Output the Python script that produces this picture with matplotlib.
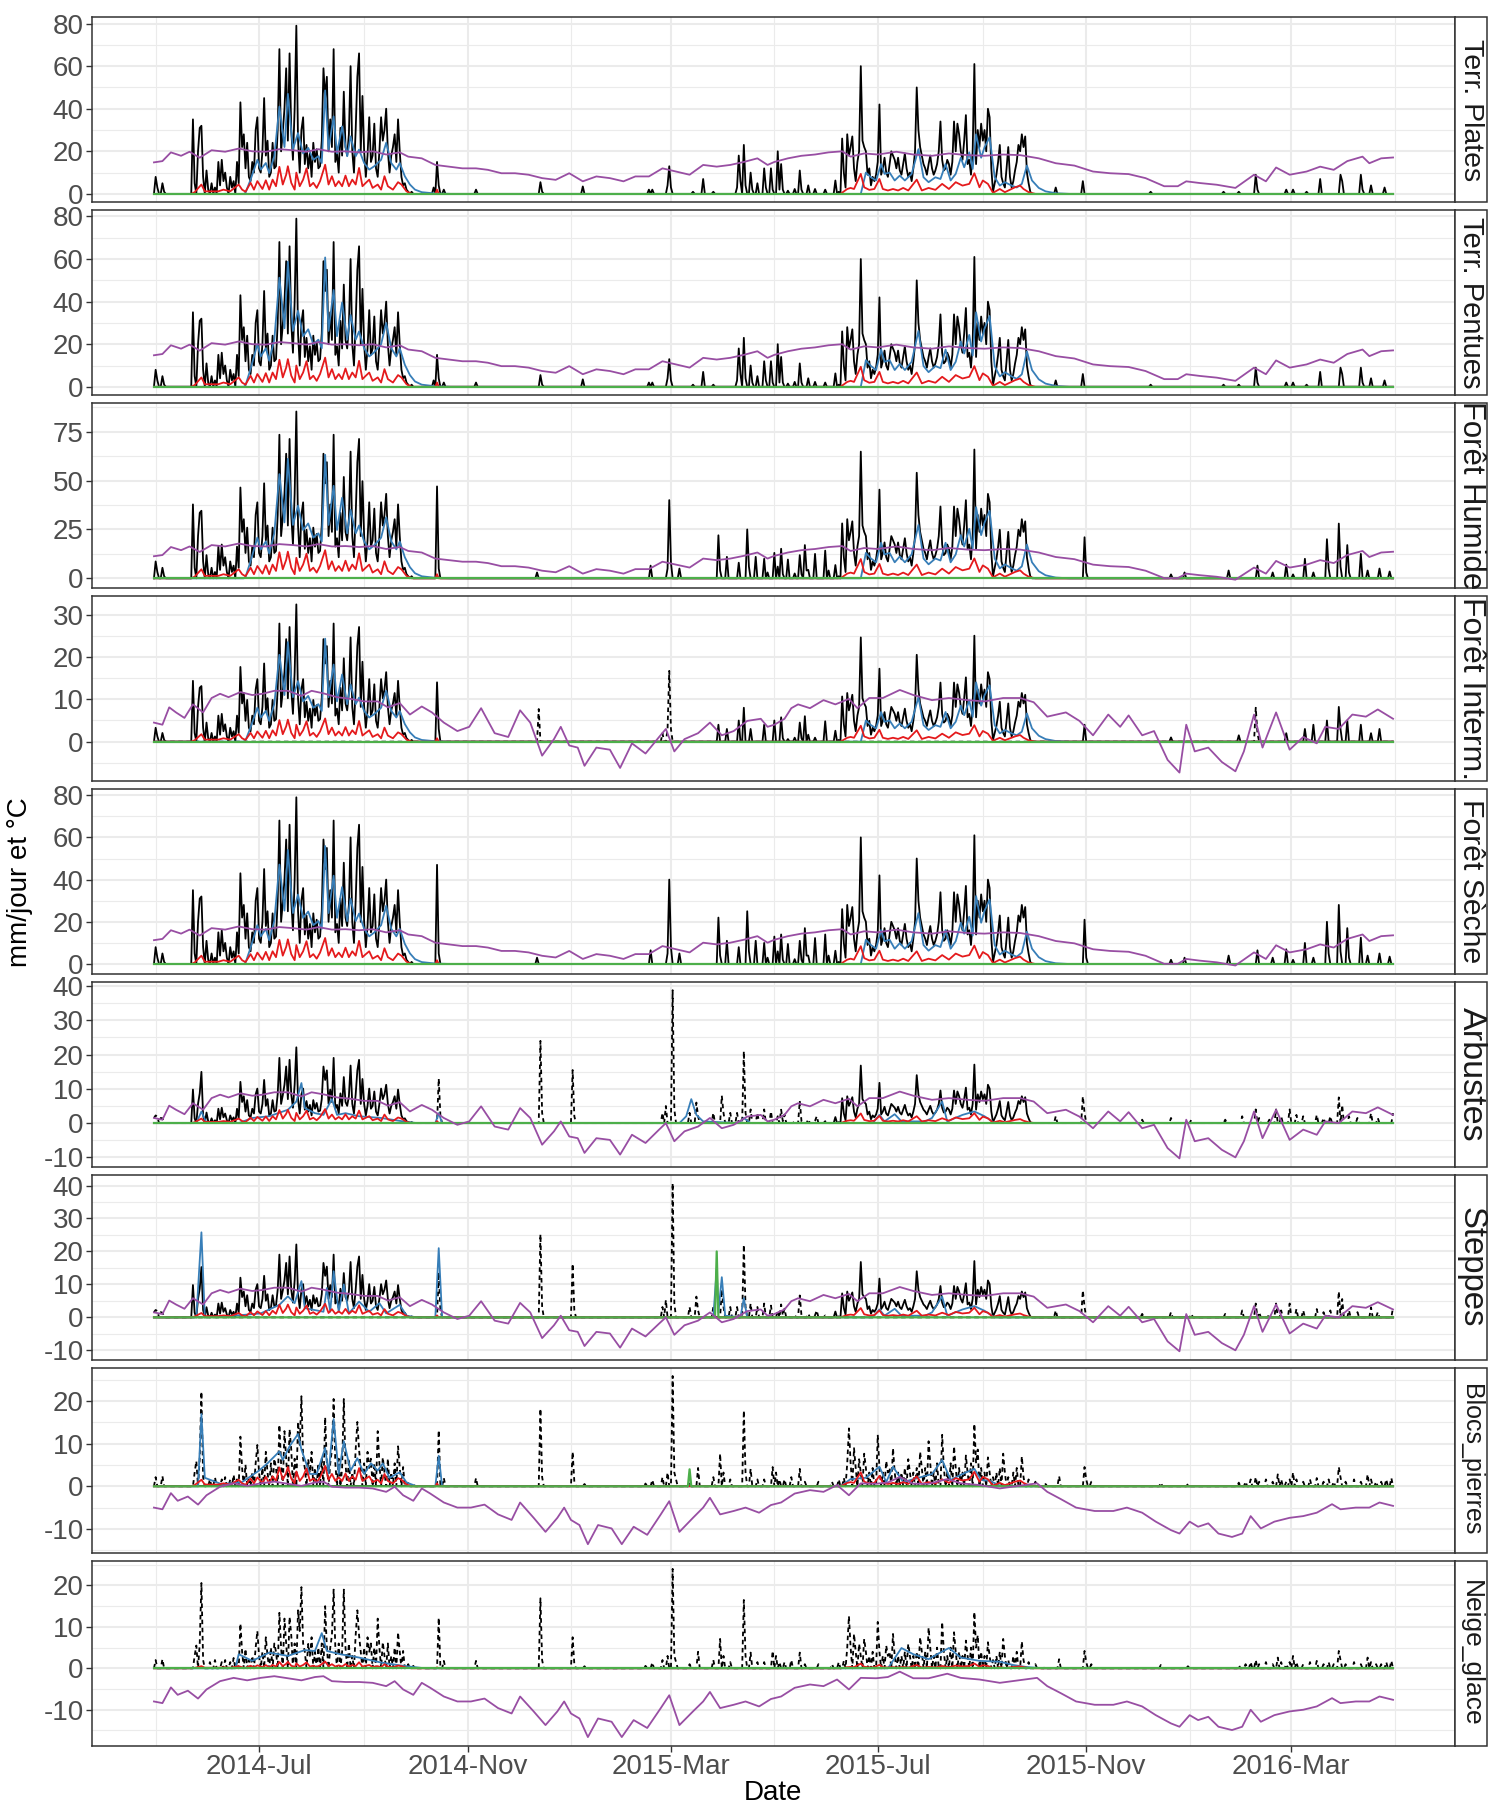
import numpy as np
import pandas as pd
import matplotlib
matplotlib.use("Agg")
import matplotlib.pyplot as plt
from matplotlib.patches import Rectangle

plt.rcParams['font.family'] = ['Liberation Sans', 'DejaVu Sans']

# ---------------------------------------------------------------- data
start_date = "2014-04-30"
n_days = 732

panel_names = ["Terr. Plates", "Terr. Pentues", "Forêt Humide", "Forêt Interm.",
               "Forêt Sèche", "Arbustes", "Steppes", "Blocs_pierres", "Neige_glace"]
y_ticks = [[0, 20, 40, 60, 80], [0, 20, 40, 60, 80], [0, 25, 50, 75], [0, 10, 20, 30],
           [0, 20, 40, 60, 80], [-10, 0, 10, 20, 30, 40], [-10, 0, 10, 20, 30, 40],
           [-10, 0, 10, 20], [-10, 0, 10, 20]]
x_tick_dates = ["2014-07-01", "2014-11-01", "2015-03-01", "2015-07-01", "2015-11-01", "2016-03-01"]
x_tick_labels = ["2014-Jul", "2014-Nov", "2015-Mar", "2015-Jul", "2015-Nov", "2016-Mar"]
x_minor_dates = ["2014-05-01", "2014-09-01", "2015-01-01", "2015-05-01", "2015-09-01",
                 "2016-01-01", "2016-05-01"]

# precipitation (mm/jour), day offset from start_date : value, read on "Terr. Plates"
precip_summer14 = [
    (1, 8), (2, 3), (5, 5), (6, 1), (23, 35), (24, 5), (26, 20), (27, 31), (28, 32), (29, 8),
    (31, 11), (32, 2), (34, 5), (36, 3), (38, 15), (39, 4), (40, 16), (41, 6), (42, 10), (43, 3),
    (45, 8), (46, 3), (47, 6), (49, 15), (50, 5), (51, 43), (52, 22), (53, 28), (54, 12), (55, 24),
    (56, 8), (57, 6), (58, 15), (59, 10), (60, 30), (61, 36), (62, 12), (63, 10), (64, 20), (65, 45),
    (66, 18), (67, 25), (68, 8), (69, 10), (70, 24), (71, 12), (72, 13), (73, 30), (74, 68), (75, 20),
    (76, 29), (77, 40), (78, 59), (79, 25), (80, 66), (81, 30), (82, 16), (83, 40), (84, 79), (85, 25),
    (86, 10), (87, 30), (88, 36), (89, 14), (90, 23), (91, 12), (92, 19), (93, 8), (94, 24), (95, 15),
    (96, 21), (97, 12), (98, 13), (99, 25), (100, 59), (101, 45), (102, 55), (103, 20), (104, 35),
    (105, 22), (106, 68), (107, 15), (108, 19), (109, 10), (110, 31), (111, 18), (112, 48), (113, 22),
    (114, 18), (115, 28), (116, 60), (117, 20), (118, 10), (119, 30), (120, 55), (121, 66), (122, 20),
    (123, 46), (124, 20), (125, 8), (126, 18), (127, 36), (128, 15), (129, 18), (130, 33), (131, 12),
    (132, 8), (133, 20), (134, 36), (135, 25), (136, 30), (137, 40), (138, 20), (139, 10), (140, 18),
    (141, 22), (142, 28), (143, 15), (144, 35), (145, 20), (146, 8), (147, 4), (148, 5), (149, 2),
    (150, 1), (152, 1)]
precip_summer15 = [
    (370, 14), (371, 2), (374, 1.5), (378, 2.3), (381, 11), (382, 2), (386, 4), (390, 2.3), (396, 2),
    (402, 6.3), (404, 1), (406, 26), (407, 10), (408, 3), (409, 28), (410, 18), (411, 22), (412, 27),
    (413, 12), (414, 6), (415, 15), (416, 20), (417, 60), (418, 25), (419, 22), (420, 20), (421, 9),
    (422, 12), (423, 4), (424, 8), (425, 6), (426, 9), (427, 15), (428, 42), (429, 9), (430, 12),
    (431, 17), (432, 10), (433, 8), (434, 14), (435, 20), (436, 18), (437, 16), (438, 12), (439, 17),
    (440, 11), (441, 9), (442, 14), (443, 19), (444, 12), (445, 8), (446, 10), (447, 6), (448, 12),
    (449, 20), (450, 50), (451, 30), (452, 22), (453, 18), (454, 14), (455, 12), (456, 9), (457, 14),
    (458, 18), (459, 12), (460, 9), (461, 11), (462, 14), (463, 20), (464, 34), (465, 16), (466, 11),
    (467, 12), (468, 16), (469, 14), (470, 9), (471, 15), (472, 34), (473, 20), (474, 33), (475, 28),
    (476, 20), (477, 16), (478, 25), (479, 37), (480, 14), (481, 16), (482, 9), (483, 20), (484, 61),
    (485, 14), (486, 30), (487, 22), (488, 33), (489, 25), (490, 30), (491, 20), (492, 40), (493, 36),
    (494, 12), (495, 1), (496, 5), (497, 9), (498, 15), (499, 23), (500, 8), (501, 5), (502, 3),
    (503, 12), (504, 22), (505, 8), (506, 3), (507, 6), (508, 11), (509, 15), (510, 23), (511, 20),
    (512, 28), (513, 22), (514, 27), (515, 10), (516, 5), (517, 1)]

# extra (mostly winter) precipitation events, one list per group of zones
events_A = [(165, 3), (167, 15), (168, 4), (171, 2), (190, 2), (228, 5.5), (229, 1), (253, 3.5),
            (292, 2), (294, 2), (303, 4), (304, 13), (305, 3), (318, 1), (324, 7), (330, 1), (344, 3),
            (345, 18), (346, 6), (348, 23), (349, 4), (352, 10), (353, 2), (356, 5), (360, 12),
            (361, 3), (364, 12), (365, 2), (368, 20), (369, 2), (532, 3), (548, 6), (588, 1),
            (631, 1), (640, 1), (650, 9), (651, 2), (668, 2), (672, 2), (680, 1), (688, 7), (700, 9),
            (701, 6), (712, 9), (713, 2), (718, 4), (726, 3)]
events_B = [(167, 47), (168, 5), (226, 3), (293, 6.5), (303, 5), (304, 40), (305, 8), (310, 5),
            (333, 22), (334, 4), (338, 11), (345, 8), (350, 25), (351, 6), (355, 11), (360, 10),
            (362, 3), (366, 13), (368, 6), (374, 8), (384, 17), (385, 4), (390, 10), (396, 12),
            (398, 4), (549, 21), (550, 3), (600, 2), (608, 3), (634, 4), (651, 6.5), (660, 3),
            (668, 7), (672, 2), (679, 10), (684, 3), (692, 20), (693, 5), (699, 28), (700, 6),
            (704, 17), (705, 3), (712, 12.5), (716, 4), (723, 5), (729, 3.5)]
events_C = [(167, 14), (168, 3), (227, 7.7), (300, 2), (303, 3), (304, 16.7), (305, 3), (333, 4),
            (338, 3), (345, 5), (348, 8), (352, 3), (360, 4), (366, 5), (384, 6), (396, 4), (549, 4),
            (600, 1), (640, 1.5), (650, 8), (651, 2), (668, 2), (679, 3), (684, 4), (692, 5),
            (699, 8.2), (700, 3), (704, 5), (712, 4), (718, 2), (723, 3)]
events_D = [(0, 1.5), (2, 1), (4, 1.5), (28, 6), (168, 13), (169, 2), (228, 24), (229, 3),
            (247, 15.5), (248, 2), (300, 3), (302, 5), (306, 38.8), (307, 4), (316, 3), (320, 6),
            (321, 2), (330, 3), (335, 8), (336, 3), (340, 3), (344, 3), (348, 21), (349, 3), (352, 4),
            (356, 3), (360, 4), (364, 3.4), (368, 2), (372, 2.5), (381, 3.4), (391, 2), (532, 2),
            (548, 7.8), (549, 3), (583, 1), (600, 1.5), (612, 1), (632, 1), (642, 2), (650, 4),
            (652, 1.5), (658, 1), (662, 4), (665, 2), (670, 4), (674, 2.4), (678, 2), (686, 2.4),
            (690, 1.5), (694, 2), (699, 7.5), (701, 5.3), (705, 2), (710, 1.5), (718, 2.9),
            (722, 1.5), (731, 2.9)]
events_E = [
    (1, 2), (5, 2.2), (24, 3), (25, 5.5), (27, 6), (28, 20.6), (29, 2), (33, 1.5), (36, 2), (40, 1.5),
    (42, 2), (45, 1.5), (47, 2.5), (49, 1.5), (51, 10.8), (52, 4), (54, 4.7), (56, 2), (58, 3),
    (60, 5), (61, 9), (62, 3), (64, 4), (66, 7.5), (67, 3), (69, 5), (71, 6), (72, 4), (74, 13.4),
    (75, 5), (77, 12), (78, 6), (80, 12.4), (81, 8), (83, 6), (85, 14), (86, 9), (87, 19.6), (88, 6),
    (89, 4), (91, 5.9), (92, 3), (93, 7.5), (95, 4), (97, 5), (99, 6), (101, 15), (102, 5), (104, 5),
    (105, 8), (106, 19), (107, 5), (109, 6), (111, 4), (112, 19), (113, 5), (115, 6), (117, 3),
    (119, 8), (120, 14), (121, 8), (122, 4), (124, 5), (126, 7.5), (127, 4), (128, 6), (130, 5),
    (132, 12), (133, 5), (135, 6.3), (136, 3), (138, 6), (140, 3), (142, 5), (144, 8.7), (145, 4),
    (147, 4.2), (150, 1), (153, 0.6), (168, 12.2), (171, 1.8), (190, 1.8), (228, 16.9), (229, 2),
    (247, 7.5), (248, 1), (254, 0.5), (290, 0.6), (294, 1.4), (300, 2), (303, 3), (306, 24), (307, 3),
    (308, 1.5), (316, 1), (321, 4), (330, 2), (334, 7.1), (336, 3), (340, 1.5), (348, 16.5), (349, 3),
    (352, 3.8), (356, 1.5), (360, 1.5), (365, 4.2), (367, 3), (369, 1.5), (372, 1.5), (376, 2),
    (381, 3.8), (384, 1), (392, 1), (400, 1), (404, 1.5), (407, 1.8), (409, 5), (410, 12.6), (411, 5),
    (413, 8.3), (414, 4), (416, 5.9), (417, 3), (419, 7.1), (420, 4), (422, 3), (424, 4), (427, 11.2),
    (428, 4), (430, 3), (432, 5.5), (433, 3), (434, 4), (436, 8.3), (437, 3), (439, 3), (441, 3),
    (443, 4), (445, 5.9), (446, 3), (448, 3), (450, 4), (452, 7.5), (453, 4), (455, 4), (457, 9.8),
    (458, 5), (460, 3), (462, 5), (465, 11.2), (466, 4), (468, 3), (470, 5), (472, 8.7), (473, 4),
    (475, 4), (477, 3), (479, 6.7), (480, 3), (482, 5), (484, 13.6), (485, 5), (486, 8), (488, 4),
    (490, 3), (492, 6.3), (493, 3), (495, 2), (497, 3), (499, 4), (501, 7.1), (502, 3), (504, 2),
    (507, 3), (509, 4), (512, 6.5), (513, 2), (516, 1.5), (520, 1), (526, 0.5), (534, 2.2),
    (549, 4.2), (550, 1.5), (553, 1), (594, 0.8), (610, 0.5), (640, 0.8), (644, 1), (647, 1.5),
    (650, 2), (652, 1), (656, 1.5), (660, 1), (663, 2.6), (665, 1.5), (668, 1), (670, 1.5), (672, 3),
    (674, 1.5), (678, 1), (682, 1.5), (686, 1.8), (690, 1), (693, 1.5), (696, 1), (699, 4.2),
    (700, 2), (703, 1), (708, 1.5), (712, 1), (716, 2.6), (718, 1.5), (721, 1), (724, 1), (727, 1.5),
    (730, 1.8)]

# blue series (points joined by lines)
blue_A = [(0, 0), (53, 0), (54, 0.5), (57, 6.7), (61, 16), (63, 11.4), (66, 14.5), (68, 9.8),
          (71, 17.7), (74, 41), (77, 22), (79, 47), (82, 21), (85, 28.6), (88, 19), (91, 21.6),
          (94, 16), (97, 17.7), (99, 14.5), (101, 48.6), (103, 21), (106, 36.4), (108, 19),
          (111, 31.7), (114, 17.7), (116, 27), (119, 17.7), (121, 20.8), (124, 14.5), (127, 11.4),
          (130, 13), (134, 16), (137, 24), (140, 14.5), (143, 11.4), (145, 14.5), (148, 8.3),
          (151, 4.4), (154, 2), (158, 0.8), (166, 0.2), (175, 0), (417, 0), (420, 10), (423, 7.8),
          (426, 6.3), (429, 14), (431, 9.4), (434, 10), (437, 6.3), (440, 8.6), (443, 6.3),
          (447, 9.4), (451, 21), (454, 7.8), (457, 5.5), (461, 7.8), (464, 7), (467, 14), (470, 6.3),
          (473, 9.4), (476, 17), (478, 12.5), (481, 19.5), (483, 11.7), (485, 28), (488, 17),
          (490, 21.9), (493, 26.6), (496, 7.8), (499, 3.9), (502, 5.5), (506, 3.9), (509, 3),
          (512, 4.7), (515, 13.3), (518, 6.3), (522, 2.8), (526, 1.2), (532, 0.3), (540, 0), (731, 0)]
blue_p6 = [(0, 0), (25, 0), (28, 3.4), (31, 0), (50, 0), (58, 1.5), (68, 2), (79, 3.9), (84, 6.3),
           (87, 11.7), (89, 4.4), (95, 2.9), (100, 2.4), (105, 7), (108, 2.4), (113, 2.9), (121, 2),
           (134, 1.5), (147, 0.5), (155, 0), (166, 0), (168, 2.9), (170, 0), (310, 0), (314, 2),
           (317, 7), (320, 2.4), (324, 0.5), (345, 0), (348, 1.5), (352, 0), (424, 0), (428, 2.4),
           (431, 0.5), (437, 2.6), (441, 0.5), (455, 0.5), (459, 1.5), (465, 6.3), (468, 0.5),
           (477, 2.4), (484, 3.4), (490, 2), (496, 0), (731, 0)]
blue_p7 = [(0, 0), (25, 0), (28, 25.8), (30, 0), (52, 0.7), (63, 1.2), (74, 3.8), (79, 6.4),
           (83, 4.3), (87, 11), (89, 2.8), (100, 1.7), (102, 8.9), (104, 1.7), (106, 14), (109, 1.7),
           (112, 10), (115, 1.2), (121, 4.8), (127, 1.7), (133, 4.3), (137, 1.2), (145, 3.8),
           (149, 0.5), (155, 0), (166, 0), (168, 21), (170, 0), (330, 0), (332, 14.9), (333, 1.5),
           (335, 12.2), (337, 0.5), (346, 0), (348, 5.8), (350, 0), (424, 0), (428, 2.4), (431, 0.5),
           (437, 2.6), (441, 0.5), (455, 0.5), (459, 1.5), (465, 6.3), (468, 0.5), (477, 2.4),
           (484, 3.4), (490, 2), (496, 0), (731, 0)]
blue_p8 = [(0, 0), (26, 0), (28, 17), (30, 2), (40, 0.5), (52, 1), (62, 3.7), (67, 5.4), (74, 8.2),
           (76, 6.2), (80, 9.4), (85, 12.3), (87, 8.6), (92, 2.9), (96, 2.9), (101, 9), (103, 3),
           (106, 15.8), (109, 2.9), (112, 10.6), (116, 3.7), (120, 6.6), (124, 2.9), (128, 5.4),
           (132, 3.7), (135, 5.4), (139, 2), (145, 3.3), (149, 0.9), (155, 0), (166, 0), (168, 7.2),
           (170, 0), (405, 0), (411, 1.7), (420, 2), (428, 4.6), (432, 1), (436, 4.6), (442, 1),
           (459, 2.9), (465, 6.2), (470, 1.5), (477, 2.9), (484, 4.1), (488, 1.5), (493, 1.3),
           (500, 0), (731, 0)]
blue_p9 = [(0, 0), (48, 0), (50, 3.4), (58, 1.8), (68, 3.8), (79, 3), (89, 4.4), (95, 4.2),
           (99, 8.5), (102, 4.2), (110, 3.4), (121, 2.6), (134, 1.4), (147, 0.6), (160, 0), (433, 0),
           (441, 4.9), (448, 3.4), (457, 2.2), (462, 3.4), (469, 4.9), (476, 2.6), (487, 1.8),
           (499, 1.6), (507, 0.8), (515, 0.3), (525, 0), (731, 0)]

# red series (points joined by lines), read on "Terr. Plates"
red_A = [(0, 0), (22, 0), (24, 0.8), (28, 4.4), (30, 1.2), (38, 1.2), (41, 2), (45, 1.2), (50, 4.4),
         (52, 2), (54, 1), (57, 5.2), (59, 2), (61, 6), (64, 2.3), (66, 6.4), (68, 2), (70, 6.7),
         (72, 3.6), (74, 12.7), (76, 4.4), (78, 9), (79, 13), (81, 5.2), (83, 2), (84, 10), (86, 3.6),
         (88, 6.7), (90, 12), (92, 3.6), (94, 5.2), (96, 2.8), (98, 6), (101, 13.7), (103, 4.4),
         (105, 8.3), (107, 3.6), (109, 6), (111, 3.6), (113, 8.6), (115, 3.6), (117, 6.7), (119, 4.4),
         (121, 12.2), (123, 3.6), (125, 5.2), (127, 6.7), (129, 2.8), (132, 4.4), (134, 2), (136, 8.3),
         (138, 3.6), (141, 2), (144, 5.5), (146, 4.4), (149, 1.2), (152, 0), (166, 0), (167, 2),
         (168, 0), (405, 0), (409, 2.3), (411, 2.8), (413, 2.3), (417, 9.4), (419, 3.1), (422, 1.9),
         (425, 2.3), (428, 7), (430, 2.3), (433, 1.6), (436, 2.3), (439, 1.6), (442, 2.8), (445, 1.6),
         (450, 6.7), (453, 1.6), (457, 2.8), (461, 1.9), (465, 4.7), (469, 2.3), (473, 5.5),
         (477, 3.9), (481, 4.7), (484, 9.7), (487, 3.1), (489, 6.3), (492, 4.7), (495, 0.5),
         (499, 2.3), (502, 0.8), (508, 3.1), (511, 3.9), (513, 2.3), (516, 0.8), (520, 0), (731, 0)]

# green series: zero except these spikes
green_p7 = [(332, 20)]
green_p8 = [(316, 4)]

# temperature (°C), three reference curves
temp_warm = [(0, 14.8), (5, 15.4), (10, 19.5), (16, 17.9), (21, 19.8), (27, 17), (34, 20.5),
             (42, 19.8), (50, 21.3), (58, 20), (66, 19.8), (74, 21), (82, 20.5), (90, 19.8), (97, 21),
             (105, 19.8), (113, 20), (121, 19.5), (129, 20), (137, 18.5), (145, 19.5), (150, 17.5),
             (158, 16.7), (166, 13.6), (174, 12.8), (182, 12), (190, 12), (197, 11.3), (205, 9.7),
             (213, 9.7), (221, 9), (229, 7.4), (237, 6.6), (245, 9.7), (253, 5.9), (261, 8.2),
             (269, 7.4), (277, 5.9), (284, 8.2), (292, 8.2), (300, 12), (308, 10.5), (316, 9),
             (324, 13.6), (332, 12.8), (340, 13.6), (348, 15), (356, 16.7), (362, 13.6), (366, 15),
             (374, 16.7), (382, 17.9), (390, 18.5), (398, 19.5), (406, 20), (411, 17.5), (419, 19),
             (427, 18.5), (438, 19.8), (448, 18.5), (459, 17.9), (469, 19), (480, 18.2), (490, 17.9),
             (501, 18.5), (511, 18.2), (522, 16.7), (532, 14.4), (543, 13.3), (554, 10.5),
             (564, 9.7), (575, 9.3), (585, 7.4), (596, 3.6), (604, 3.6), (609, 5.9), (617, 5.1),
             (627, 4.3), (638, 2.8), (649, 9), (656, 5.9), (662, 12.4), (670, 9), (680, 10.5),
             (688, 12.8), (696, 11.3), (704, 15.4), (713, 17.5), (717, 14.4), (724, 16.7), (731, 17.1)]
temp_mid = [(0, 1.5), (5, 1), (9, 5.1), (13, 3.9), (18, 2.6), (23, 5.8), (29, 3.9), (34, 7.3),
            (39, 8.3), (44, 7.5), (51, 8.7), (58, 8), (64, 8.3), (71, 9), (79, 9), (87, 7.8), (93, 9),
            (100, 8.4), (108, 7.5), (116, 7.1), (124, 6.5), (132, 6.5), (138, 5.1), (145, 6.1),
            (151, 3.4), (158, 5.3), (164, 3.9), (171, 1.5), (179, -0.5), (186, 0.5), (193, 4.9),
            (201, -1), (209, -1.9), (216, 4.4), (222, 1.5), (229, -6.3), (236, -2.4), (240, 0.5),
            (245, -3.9), (250, -4.4), (254, -8.7), (261, -4.4), (269, -4.9), (275, -9.2), (282, -3.4),
            (290, -5.8), (298, -1.9), (302, 0), (307, -5.3), (313, -2.4), (321, -1), (328, 1.5),
            (335, -1.5), (342, -0.5), (350, 1.9), (358, 2.4), (362, 0.5), (366, 1), (372, 2.4),
            (376, 4.9), (380, 5.8), (387, 4.9), (395, 6.8), (402, 5.8), (410, 7.1), (415, 4.9),
            (422, 7.3), (430, 7.3), (440, 9.2), (448, 8), (459, 6.8), (469, 7.3), (480, 6.8),
            (490, 6.5), (501, 7.3), (511, 7.3), (519, 6.3), (527, 2.9), (538, 3.9), (546, 1.9),
            (554, -1.5), (563, 3.4), (570, 0.5), (575, 3.2), (583, -1.5), (590, -0.5), (598, -7.3),
            (605, -10.3), (609, 1), (614, -5.3), (622, -4.4), (630, -7.8), (638, -10), (643, -5.3),
            (649, 3.4), (654, -4.4), (662, 3.9), (670, -4.9), (678, -1.9), (686, -3.4), (691, 0.5),
            (699, 0), (707, 3.4), (715, 2.9), (722, 4.6), (731, 2.4)]
temp_cold = [(0, -8), (5, -8.4), (10, -4.6), (14, -6.4), (20, -5.4), (26, -7.3), (31, -5.1),
             (39, -3.1), (47, -2.3), (55, -2.9), (63, -2.3), (71, -1.9), (79, -2.4), (87, -2.9),
             (95, -2.1), (100, -1.9), (105, -3.1), (113, -3.3), (121, -3.3), (129, -3.5), (137, -4.3),
             (142, -3.1), (147, -5.1), (153, -6.4), (158, -3.5), (163, -4.7), (171, -6.8), (179, -8),
             (187, -8), (195, -7.3), (203, -9.6), (211, -10.9), (216, -6.8), (224, -10.4),
             (231, -13.7), (238, -10.4), (242, -8), (246, -10.9), (251, -12.1), (256, -16.6),
             (262, -12.1), (270, -12.9), (276, -16.6), (283, -12.5), (291, -14.4), (299, -9.6),
             (304, -6.5), (310, -13.7), (318, -10.4), (324, -8), (328, -5.7), (334, -9.6), (342, -8.8),
             (349, -8), (357, -9.2), (364, -7.4), (370, -6.8), (378, -4.7), (387, -3.9), (395, -4.3),
             (403, -2.7), (410, -5.1), (417, -2.3), (426, -2.4), (433, -2.1), (440, -0.8), (448, -2.4),
             (457, -2.4), (468, -1.3), (476, -2.3), (487, -2.7), (499, -3.5), (510, -2.9), (521, -2.3),
             (527, -4.3), (535, -6), (544, -8), (555, -8.8), (566, -8.8), (574, -8), (583, -9.2),
             (591, -11.3), (600, -13.3), (605, -14.1), (611, -11.3), (616, -12.5), (622, -11.7),
             (628, -14.1), (636, -14.9), (642, -14.1), (647, -10), (653, -12.9), (661, -11.3),
             (670, -10.4), (678, -10), (686, -9.2), (695, -7.2), (700, -8.4), (709, -8), (717, -8),
             (723, -6.8), (731, -7.6)]

# per-zone settings
summer_scale = [1, 1, 1.08, 0.41, 1, 0.28, 0.28, 0, 0]
events_group = ["A", "A", "B", "C", "B", "D", "D", "E", "E"]
events_scale = [1, 1, 1, 1, 1, 1, 1.05, 1.08, 1]
snow_windows = [[], [], [], [(220, 235), (298, 310), (645, 655)], [],
                [(0, 12), (160, 400), (522, 731)], [(0, 12), (160, 400), (522, 731)],
                [(0, 731)], [(0, 731)]]
blue_source = ["A", "A", "A", "A", "A", "p6", "p7", "p8", "p9"]
blue_scale = [1, 1.25, 1.3, 0.5, 1.15, 1, 1, 1, 1]
red_scale = [1, 1, 1.05, 0.4, 0.9, 0.3, 0.3, 0.35, 0.12]
green_events = [[], [], [], [], [], [], green_p7, green_p8, []]
temp_source = ["warm", "warm", "warm", "mid", "warm", "mid", "mid", "cold", "cold"]
temp_offset = [0, 0, -3.5, 3, -3.5, 0, 0, 3, 0]
strip_sizes = [20.5, 21, 22.4, 23, 21.7, 24.6, 23.7, 18, 19]

events = {"A": events_A, "B": events_B, "C": events_C, "D": events_D, "E": events_E}
blues = {"A": blue_A, "p6": blue_p6, "p7": blue_p7, "p8": blue_p8, "p9": blue_p9}
temps = {"warm": temp_warm, "mid": temp_mid, "cold": temp_cold}

# ---------------------------------------------------------------- helpers
t0 = pd.Timestamp(start_date)
dates = pd.date_range(start_date, periods=n_days, freq="D")


def daily(ev, scale=1.0):
    arr = np.zeros(n_days)
    for d, v in ev:
        if 0 <= d < n_days:
            arr[d] += v * scale
    return arr


def joined(pts, scale=1.0, offset=0.0):
    d = np.array([p[0] for p in pts])
    v = np.array([p[1] for p in pts], dtype=float) * scale + offset
    return t0 + pd.to_timedelta(d, unit="D"), v


BLACK, BLUE, RED, GREEN, PURPLE = "#000000", "#377EB8", "#E41A1C", "#4DAF4A", "#984EA3"
LW = 1.3

W, H = 1504, 1807
fig = plt.figure(figsize=(W / 100, H / 100), dpi=100)
left, right = 92, 1455
ph, step, top0 = 185, 192.9, 17.3

xmin = t0 - pd.Timedelta(days=0.05 * (n_days - 1))
xmax = dates[-1] + pd.Timedelta(days=0.05 * (n_days - 1))

for i, name in enumerate(panel_names):
    top = top0 + i * step
    ax = fig.add_axes([left / W, 1 - (top + ph) / H, (right - left) / W, ph / H])

    precip = daily(precip_summer14 + precip_summer15, summer_scale[i])
    precip += daily(events[events_group[i]], events_scale[i])
    snow_mask = np.zeros(n_days, dtype=bool)
    for a, b in snow_windows[i]:
        snow_mask[a:b + 1] = True
    rain = np.where(snow_mask, 0, precip)
    snow = np.where(snow_mask, precip, 0)

    bx, by = joined(blues[blue_source[i]], blue_scale[i])
    rx, ry = joined(red_A, red_scale[i])
    green = daily(green_events[i])
    tx, ty = joined(temps[temp_source[i]], offset=temp_offset[i])

    ax.plot(dates, rain, color=BLACK, lw=LW, zorder=2)
    ax.plot(dates, snow, color=BLACK, lw=LW, ls=(0, (2.5, 2)), zorder=2)
    ax.plot(bx, by, color=BLUE, lw=LW, zorder=3)
    ax.plot(rx, ry, color=RED, lw=LW, zorder=4)
    ax.plot(dates, green, color=GREEN, lw=LW + 0.3, zorder=5)
    ax.plot(tx, ty, color=PURPLE, lw=LW, zorder=6)

    vals = np.concatenate([rain, snow, by, ry, green, ty])
    lo, hi = vals.min(), vals.max()
    pad = 0.05 * (hi - lo)
    ax.set_ylim(lo - pad, hi + pad)
    ax.set_xlim(xmin, xmax)

    yt = y_ticks[i]
    ystep = yt[1] - yt[0]
    yminor = [v for v in np.arange(yt[0] - ystep / 2, yt[-1] + ystep, ystep)
              if lo - pad < v < hi + pad]
    ax.set_yticks(yt)
    ax.set_yticks(yminor, minor=True)
    ax.set_yticklabels([str(v) for v in yt])
    ax.set_xticks(pd.to_datetime(x_tick_dates))
    ax.set_xticks(pd.to_datetime(x_minor_dates), minor=True)
    ax.set_xticklabels(x_tick_labels)

    ax.set_axisbelow(True)
    ax.grid(which="major", color="#EBEBEB", lw=1.5)
    ax.grid(which="minor", color="#EBEBEB", lw=0.8)
    for s in ax.spines.values():
        s.set_color("#333333")
        s.set_linewidth(1.1)
    ax.tick_params(which="minor", length=0)
    ax.tick_params(axis="y", which="major", length=4, width=1, color="#333333",
                   labelsize=20, labelcolor="#4D4D4D", pad=2)
    if i < len(panel_names) - 1:
        ax.tick_params(axis="x", which="major", length=0, labelbottom=False)
    else:
        ax.tick_params(axis="x", which="major", length=4, width=1, color="#333333",
                       labelsize=20, labelcolor="#4D4D4D", pad=2)

    # facet strip on the right
    fig.add_artist(Rectangle((right / W, 1 - (top + ph) / H), 32 / W, ph / H,
                             transform=fig.transFigure, facecolor="white",
                             edgecolor="#333333", lw=1.1))
    fig.text((right + 16) / W, 1 - (top + ph / 2) / H, name, rotation=-90,
             ha="center", va="center", fontsize=strip_sizes[i], color="#1A1A1A")

fig.text(20 / W, 1 - 882 / H, "mm/jour et °C", rotation=90, ha="center", va="center",
         fontsize=20, color="black")
fig.text(773 / W, 1 - 1793 / H, "Date", ha="center", va="center", fontsize=20, color="black")

fig.savefig("out.png", dpi=100)
